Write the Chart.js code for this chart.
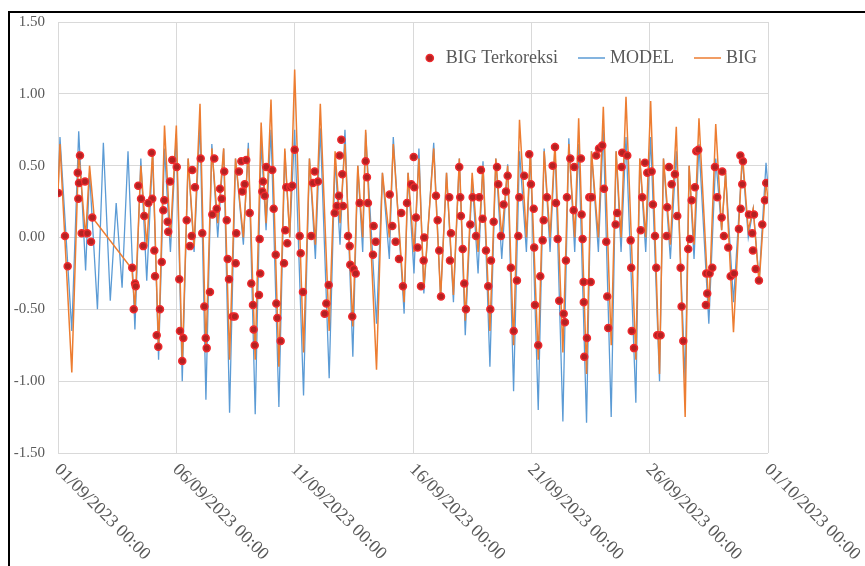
<!DOCTYPE html>
<html>
<head>
<meta charset="utf-8">
<script src="https://cdn.jsdelivr.net/npm/chart.js@4.4.1/dist/chart.umd.min.js"></script>
<style>
    body { margin: 0; background: #fff; overflow: hidden; }
    #wrap { position: relative; width: 865px; height: 566px; }
    #frame { position: absolute; left: 8px; top: 11px; width: 900px; height: 600px; border: 2px solid #000; }
    #myChart { position: absolute; left: 0; top: 0; }
</style>
</head>
<body>
<div id="wrap">
    <div id="frame"></div>
    <canvas id="myChart" width="865" height="566"></canvas>
</div>
<script>
// jam sejak 01/09/2023 00:00
const xTickHours = [0, 120, 240, 360, 480, 600, 720];
const xTickLabels = ['01/09/2023 00:00', '06/09/2023 00:00', '11/09/2023 00:00', '16/09/2023 00:00',
    '21/09/2023 00:00', '26/09/2023 00:00', '01/10/2023 00:00'];
const yTicks = [-1.5, -1.0, -0.5, 0, 0.5, 1.0, 1.5];

// MODEL (puncak dan lembah)
const modelHours = [0, 2, 14, 21, 28, 32, 40, 46, 53, 59, 65, 71, 78, 84, 90, 96, 102, 108, 114, 120,
    126, 132, 138, 144, 150, 156, 162, 168, 174, 180, 188, 193, 200, 206, 211, 216, 224, 230, 235, 240,
    249, 255, 261, 266, 275, 281, 286, 291, 299, 304, 309, 312, 323, 329, 336, 340, 351, 355, 361, 366,
    371, 381, 388, 394, 401, 407, 413, 420, 426, 431, 438, 444, 450, 456, 462, 468, 475, 479, 487, 493,
    499, 504, 512, 518, 524, 528, 536, 541, 548, 553, 561, 566, 571, 576, 586, 590, 596, 601, 610, 614,
    621, 627, 636, 640, 645, 650, 660, 667, 673, 677, 685, 694, 700, 705, 711, 718, 720];
const modelLevel = [0.30, 0.70, -0.65, 0.74, -0.23, 0.45, -0.50, 0.66, -0.44, 0.24, -0.35, 0.60, -0.64, 0.55, -0.30, 0.59, -0.85, 0.62, -0.10, 0.72,
    -1.00, 0.55, -0.10, 0.80, -1.13, 0.65, 0.00, 0.62, -1.22, 0.55, -0.05, 0.66, -1.23, 0.67, 0.05, 0.75, -1.18, 0.60, 0.00, 0.75,
    -1.10, 0.55, -0.15, 0.76, -0.98, 0.55, -0.05, 0.75, -0.83, 0.50, -0.10, 0.73, -0.60, 0.45, -0.15, 0.70, -0.53, 0.45, -0.25, 0.62,
    -0.39, 0.66, -0.42, 0.45, -0.45, 0.55, -0.68, 0.41, -0.25, 0.53, -0.90, 0.55, -0.15, 0.51, -1.07, 0.60, -0.10, 0.59, -1.20, 0.62,
    -0.10, 0.64, -1.28, 0.69, -0.10, 0.65, -1.29, 0.60, -0.10, 0.75, -1.25, 0.60, -0.10, 0.70, -1.15, 0.55, -0.10, 0.70, -1.00, 0.55,
    -0.15, 0.60, -1.00, 0.50, -0.15, 0.65, -0.60, 0.55, 0.05, 0.45, -0.45, 0.55, 0.00, 0.20, -0.30, 0.52, 0.35];

// BIG (ada celah data sekitar 02/09 - 04/09)
const bigHours = [0, 2, 14, 21, 28, 32, 37, 75, 78, 84, 90, 96, 102, 108, 114, 120,
    126, 132, 138, 144, 150, 156, 162, 168, 174, 180, 188, 193, 200, 206, 211, 216, 224, 230, 235, 240,
    249, 255, 261, 266, 275, 281, 286, 291, 299, 304, 309, 312, 323, 329, 336, 340, 351, 355, 361, 366,
    371, 381, 388, 394, 401, 407, 413, 420, 426, 431, 438, 444, 450, 456, 462, 468, 475, 479, 487, 493,
    499, 504, 512, 518, 524, 528, 536, 541, 548, 553, 561, 566, 571, 576, 586, 590, 596, 601, 610, 614,
    621, 627, 636, 640, 645, 650, 660, 667, 673, 677, 685, 694, 700, 705, 711, 718, 720];
const bigLevel = [0.31, 0.65, -0.94, 0.60, 0.00, 0.50, 0.12, -0.22, -0.50, 0.50, -0.06, 0.60, -0.78, 0.78, 0.00, 0.78,
    -0.88, 0.55, -0.06, 0.93, -0.80, 0.62, 0.10, 0.62, -0.85, 0.55, 0.00, 0.62, -0.85, 0.80, 0.10, 0.96, -0.90, 0.62, 0.00, 1.17,
    -0.80, 0.55, -0.05, 0.93, -0.65, 0.60, 0.10, 0.65, -0.62, 0.50, 0.00, 0.75, -0.92, 0.45, 0.00, 0.65, -0.45, 0.45, -0.10, 0.55,
    -0.35, 0.62, -0.42, 0.45, -0.40, 0.55, -0.58, 0.45, -0.10, 0.50, -0.65, 0.55, 0.00, 0.50, -0.75, 0.82, 0.00, 0.60, -0.85, 0.60,
    0.00, 0.66, -0.80, 0.65, 0.00, 0.83, -0.95, 0.60, 0.00, 0.91, -0.75, 0.60, 0.00, 0.98, -0.85, 0.55, 0.00, 0.95, -0.95, 0.55,
    -0.05, 0.77, -1.25, 0.50, -0.05, 0.83, -0.50, 0.79, 0.05, 0.45, -0.66, 0.59, 0.05, 0.20, -0.32, 0.40, 0.25];

// BIG Terkoreksi
const koreksiHours = [0.3, 7.1, 9.8, 20.0, 22.3, 21.3, 20.6, 24.0, 29.7, 27.4, 34.8, 33.5,
    75.3, 78.1, 78.8, 76.8, 81.4, 84.2, 87.5, 86.5, 95.0, 95.6, 91.6, 97.7, 98.4, 100.1, 101.7, 103.4, 105.2, 106.8,
    107.8, 111.2, 111.8, 113.6, 115.9, 120.4, 123.0, 123.7, 127.1, 126.0, 130.5, 133.8, 135.6, 136.2, 138.9, 144.7,
    146.3, 148.4, 149.8, 150.8, 154.1, 156.5, 158.5, 160.9, 164.3, 166.0, 168.6, 171.1, 172.1, 173.4, 177.1,
    180.8, 180.2, 179.2, 183.5, 185.9, 189.3, 190.9, 186.9, 194.4, 196.0, 197.7, 198.4, 199.5, 203.8, 205.1, 204.5,
    207.2, 207.9, 209.6, 211.2, 217.3, 218.7, 220.8, 221.4, 222.4, 225.8, 229.2, 230.5, 232.5, 231.5, 235.6, 237.6,
    240.0, 245.1, 246.1, 248.4, 256.8, 258.6, 260.3, 263.6, 270.4, 272.1, 274.5, 280.6, 282.9, 284.9, 285.6, 287.3,
    288.3, 289.0, 294.1, 295.8, 296.4, 299.8, 301.9, 298.4, 305.9, 312.0, 313.3, 314.3, 320.1, 322.2, 319.4, 336.4,
    339.0, 342.4, 345.8, 349.8, 348.1, 353.9, 358.3,
    360.7, 361.3, 363.0, 364.7, 371.4, 370.8, 368.1, 383.3, 385.0, 386.6, 388.4, 396.8, 398.5, 397.5, 406.9, 407.9,
    408.6, 410.4, 412.0, 413.7, 418.1, 420.5, 423.9, 427.2, 428.9, 430.6, 434.0, 436.3, 438.4, 439.1, 441.8, 445.2,
    446.5, 449.2, 451.9, 456.0, 454.3, 459.3, 462.1, 465.4, 466.8, 467.8, 472.8, 477.9, 479.6, 482.4, 482.9, 483.7,
    487.0, 489.1, 491.5, 492.5, 495.8, 501.6, 504.0, 505.0, 506.7, 508.3, 512.8, 514.1, 515.1, 516.1, 519.5, 523.5,
    522.9, 530.3, 531.0, 532.0, 533.0, 533.2, 533.7, 536.4, 538.8,
    541.2, 540.2, 545.8, 548.6, 551.9, 553.7, 556.0, 557.0, 558.0, 565.5, 567.1, 571.6, 572.2, 577.3, 580.7, 581.3,
    581.8, 584.1, 590.9, 592.5, 595.2, 597.6, 602.0, 603.3, 605.4, 606.7, 607.7, 611.1, 617.2, 617.8, 619.6, 622.3,
    625.6, 628.0, 631.4, 632.4, 634.1, 639.1, 640.9, 642.6, 645.9, 647.3, 649.3, 657.4, 658.4, 657.0, 660.8, 663.5,
    666.2, 668.5, 673.0, 673.6, 675.3, 679.7, 682.1, 685.5, 690.5, 692.3, 692.0, 694.6, 693.9, 700.7, 705.8, 704.0,
    704.7, 707.5, 710.8, 714.2, 716.9, 718.2];
const koreksiLevel = [0.31, 0.01, -0.20, 0.45, 0.57, 0.38, 0.27, 0.03, 0.03, 0.39, 0.14, -0.03,
    -0.21, -0.32, -0.34, -0.50, 0.36, 0.27, 0.15, -0.06, 0.59, 0.27, 0.24, -0.09, -0.27, -0.68, -0.76, -0.50, -0.17, 0.19,
    0.26, 0.11, 0.04, 0.39, 0.54, 0.49, -0.29, -0.65, -0.70, -0.86, 0.12, -0.06, 0.01, 0.47, 0.35, 0.55,
    0.03, -0.48, -0.70, -0.77, -0.38, 0.16, 0.55, 0.20, 0.34, 0.27, 0.46, 0.12, -0.15, -0.29, -0.55,
    0.03, -0.18, -0.55, 0.46, 0.53, 0.37, 0.54, 0.32, 0.17, -0.32, -0.47, -0.64, -0.75, -0.40, -0.25, -0.01,
    0.32, 0.39, 0.29, 0.49, 0.47, 0.20, -0.12, -0.46, -0.56, -0.72, -0.18, 0.05, -0.04, 0.35, 0.35, 0.36,
    0.61, 0.01, -0.11, -0.38, 0.01, 0.38, 0.46, 0.39, -0.53, -0.46, -0.33, 0.17, 0.22, 0.29, 0.57, 0.68,
    0.44, 0.22, 0.01, -0.06, -0.19, -0.22, -0.25, -0.55, 0.24, 0.53, 0.42, 0.24, 0.08, -0.03, -0.12, 0.30,
    0.08, -0.03, -0.15, -0.34, 0.17, 0.24, 0.37,
    0.56, 0.35, 0.14, -0.07, 0.00, -0.16, -0.34, 0.29, 0.12, -0.09, -0.41, 0.28, 0.03, -0.16, 0.49, 0.28,
    0.15, -0.08, -0.32, -0.50, 0.09, 0.28, 0.01, 0.28, 0.47, 0.13, -0.09, -0.34, -0.50, -0.16, 0.11, 0.49,
    0.37, 0.01, 0.23, 0.43, 0.32, -0.21, -0.65, -0.30, 0.01, 0.28, 0.43, 0.58, 0.37, 0.20, -0.07, -0.47,
    -0.75, -0.27, -0.02, 0.12, 0.28, 0.50, 0.63, 0.24, -0.01, -0.44, -0.53, -0.59, -0.16, 0.28, 0.55, 0.49,
    0.19, 0.55, 0.16, -0.01, -0.31, -0.45, -0.83, -0.70, 0.28,
    0.28, -0.31, 0.57, 0.62, 0.64, 0.34, -0.03, -0.41, -0.63, 0.09, 0.17, 0.49, 0.59, 0.57, -0.02, -0.21,
    -0.65, -0.77, 0.05, 0.28, 0.52, 0.45, 0.46, 0.23, 0.01, -0.21, -0.68, -0.68, 0.01, 0.21, 0.49, 0.37,
    0.44, 0.15, -0.21, -0.48, -0.72, -0.08, -0.01, 0.26, 0.35, 0.60, 0.61, -0.25, -0.39, -0.47, -0.25, -0.21,
    0.49, 0.28, 0.14, 0.46, 0.01, -0.07, -0.27, -0.25, 0.06, 0.20, 0.57, 0.53, 0.37, 0.16, 0.16, 0.03,
    -0.09, -0.22, -0.30, 0.09, 0.26, 0.38];

const seriesNames = ['BIG Terkoreksi', 'MODEL', 'BIG'];
const seriesColors = ['#EE2A2E', '#5B9BD5', '#ED7D31'];

function toPoints(xs, ys) {
    let pts = [];
    for (let i = 0; i < xs.length; i++) {
        pts.push({ x: xs[i], y: ys[i] });
    }
    return pts;
}

// label sumbu x miring ke bawah
const xLabelPlugin = {
    id: 'xLabels',
    afterDraw(chart) {
        let ctx = chart.ctx;
        let xs = chart.scales.x;
        let area = chart.chartArea;
        ctx.save();
        ctx.font = '18px "Liberation Serif"';
        ctx.fillStyle = '#595959';
        ctx.textAlign = 'left';
        ctx.textBaseline = 'middle';
        xTickHours.forEach(function(h, i) {
            let px = xs.getPixelForValue(h);
            ctx.save();
            ctx.translate(px - 1, area.bottom + 14);
            ctx.rotate(Math.PI / 4);
            ctx.fillText(xTickLabels[i], 0, 0);
            ctx.restore();
        });
        ctx.restore();
    }
};

// legenda di dalam area plot, kanan atas
const legendPlugin = {
    id: 'insideLegend',
    afterDraw(chart) {
        let ctx = chart.ctx;
        let area = chart.chartArea;
        ctx.save();
        ctx.font = '18px "Liberation Serif"';
        ctx.textBaseline = 'middle';
        ctx.textAlign = 'left';
        let markW = [19, 32, 32];
        let total = 0;
        seriesNames.forEach(function(name, i) {
            total += markW[i] + ctx.measureText(name).width;
        });
        total += 20 * (seriesNames.length - 1);
        let x = area.right - 11 - total;
        let y = area.top + 36;
        seriesNames.forEach(function(name, i) {
            if (i === 0) {
                ctx.beginPath();
                ctx.arc(x + 3, y, 3.6, 0, Math.PI * 2);
                ctx.fillStyle = '#B22222';
                ctx.fill();
                ctx.lineWidth = 1.5;
                ctx.strokeStyle = seriesColors[0];
                ctx.stroke();
            } else {
                ctx.beginPath();
                ctx.moveTo(x, y);
                ctx.lineTo(x + 27, y);
                ctx.lineWidth = 1.5;
                ctx.strokeStyle = seriesColors[i];
                ctx.stroke();
            }
            ctx.fillStyle = '#595959';
            ctx.fillText(name, x + markW[i], y);
            x += markW[i] + ctx.measureText(name).width + 20;
        });
        ctx.restore();
    }
};

let ctx = document.getElementById('myChart').getContext('2d');
new Chart(ctx, {
    type: 'line',
    data: {
        datasets: [{
            label: seriesNames[0],
            data: toPoints(koreksiHours, koreksiLevel),
            showLine: false,
            pointRadius: 3.5,
            pointBackgroundColor: '#B22222',
            pointBorderColor: seriesColors[0],
            pointBorderWidth: 1.5,
            order: 0
        }, {
            label: seriesNames[1],
            data: toPoints(modelHours, modelLevel),
            borderColor: seriesColors[1],
            borderWidth: 1.3,
            pointRadius: 0,
            tension: 0,
            order: 2
        }, {
            label: seriesNames[2],
            data: toPoints(bigHours, bigLevel),
            borderColor: seriesColors[2],
            borderWidth: 1.5,
            pointRadius: 0,
            tension: 0,
            order: 1
        }]
    },
    options: {
        responsive: false,
        animation: false,
        layout: { padding: { left: 0, top: 19, right: 97, bottom: 113 } },
        scales: {
            x: {
                type: 'linear',
                min: 0,
                max: 720,
                afterBuildTicks: function(scale) {
                    scale.ticks = xTickHours.map(function(v) { return { value: v }; });
                },
                ticks: { display: false },
                grid: { color: '#D9D9D9', drawTicks: false },
                border: { display: false }
            },
            y: {
                min: -1.5,
                max: 1.5,
                afterBuildTicks: function(scale) {
                    scale.ticks = yTicks.map(function(v) { return { value: v }; });
                },
                afterFit: function(scale) {
                    scale.width = 58;
                },
                ticks: {
                    padding: 13,
                    color: '#595959',
                    font: { family: 'Liberation Serif', size: 15 },
                    callback: function(v) { return v.toFixed(2); }
                },
                grid: { color: '#D9D9D9', drawTicks: false },
                border: { display: false }
            }
        },
        plugins: {
            tooltip: { enabled: false },
            legend: { display: false }
        }
    },
    plugins: [xLabelPlugin, legendPlugin]
});
</script>
</body>
</html>
